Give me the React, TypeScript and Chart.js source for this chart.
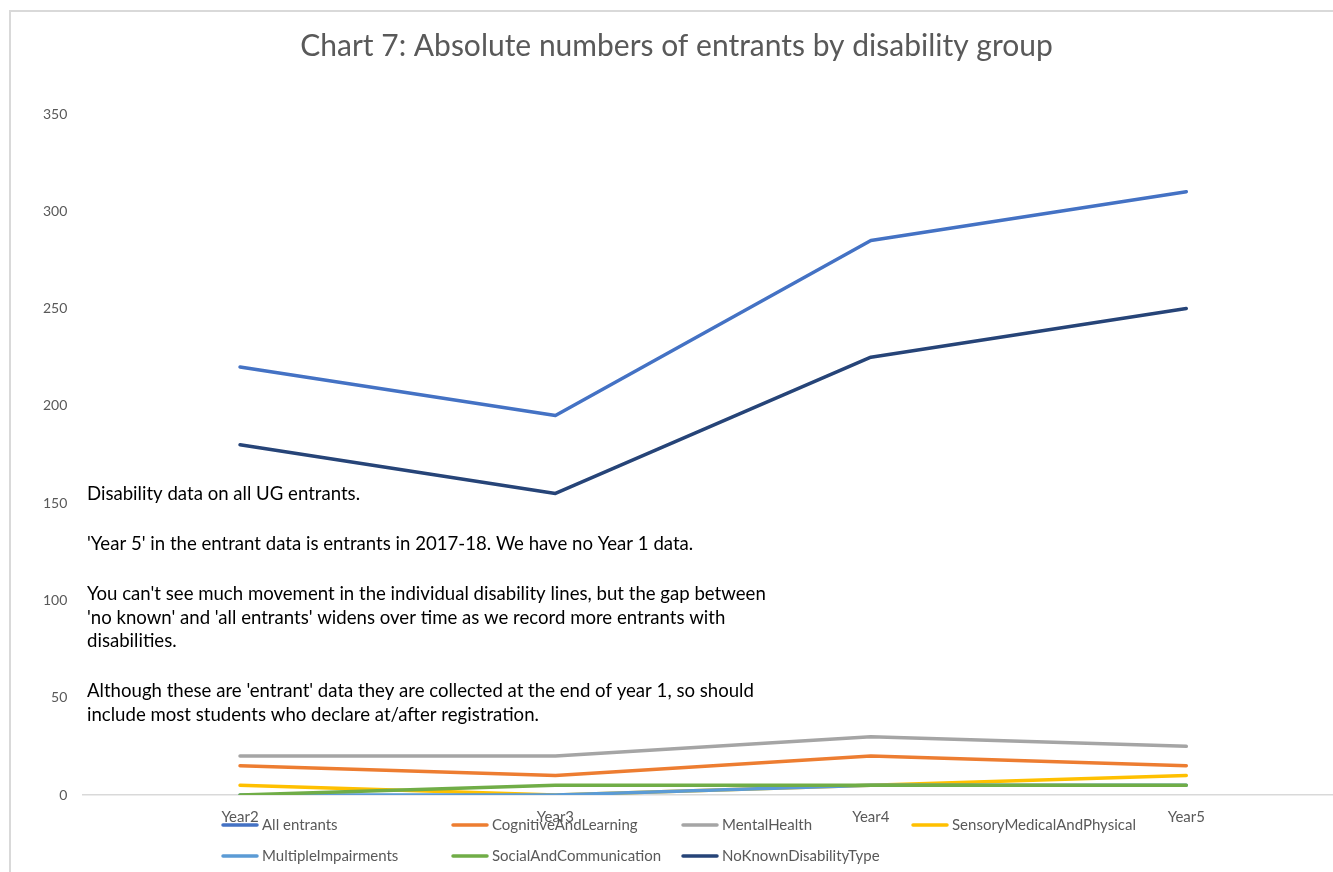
import React, { useEffect, useRef } from "react";
import { Chart, registerables } from "chart.js";

Chart.register(...registerables);

// ---- data ----
const categories = ["Year2", "Year3", "Year4", "Year5"];
const seriesNames = [
  "All entrants",
  "CognitiveAndLearning",
  "MentalHealth",
  "SensoryMedicalAndPhysical",
  "MultipleImpairments",
  "SocialAndCommunication",
  "NoKnownDisabilityType",
];
const allEntrants = [220, 195, 285, 310];
const cognitiveAndLearning = [15, 10, 20, 15];
const mentalHealth = [20, 20, 30, 25];
const sensoryMedicalAndPhysical = [5, 0, 5, 10];
const multipleImpairments = [0, 0, 5, 5];
const socialAndCommunication = [0, 5, 5, 5];
const noKnownDisabilityType = [180, 155, 225, 250];
const seriesColors = ["#4472C4", "#ED7D31", "#A5A5A5", "#FFC000", "#5B9BD5", "#70AD47", "#264478"];
const yMin = 0;
const yMax = 350;
const yStep = 50;
const chartTitle = "Chart 7: Absolute numbers of entrants by disability group";
const noteParagraphs = [
  ["Disability data on all UG entrants."],
  ["'Year 5' in the entrant data is entrants in 2017-18. We have no Year 1 data."],
  [
    "You can't see much movement in the individual disability lines, but the gap between",
    "'no known' and 'all entrants' widens over time as we record more entrants with",
    "disabilities.",
  ],
  [
    "Although these are 'entrant' data they are collected at the end of year 1, so should",
    "include most students who declare at/after registration.",
  ],
];

const seriesValues = [
  allEntrants,
  cognitiveAndLearning,
  mentalHealth,
  sensoryMedicalAndPhysical,
  multipleImpairments,
  socialAndCommunication,
  noKnownDisabilityType,
];

const FONT = "Lato, 'Noto Sans', sans-serif";
const GREY_TEXT = "#595959";

const W = 1344;
const H = 872;

const decorPlugin = {
  id: "decor",
  beforeDraw(chart: any) {
    const ctx = chart.ctx;
    ctx.save();
    ctx.fillStyle = "#ffffff";
    ctx.fillRect(0, 0, chart.width, chart.height);
    ctx.fillStyle = "#D9D9D9";
    ctx.fillRect(9, 10, chart.width - 9, 2);
    ctx.fillRect(9, 10, 2, chart.height - 10);
    ctx.restore();
  },
  afterDraw(chart: any) {
    const ctx = chart.ctx;
    ctx.save();
    // title
    ctx.fillStyle = GREY_TEXT;
    ctx.font = `30px ${FONT}`;
    ctx.textAlign = "center";
    ctx.textBaseline = "middle";
    ctx.fillText(chartTitle, (9 + chart.width) / 2, 46);

    // notes text box
    ctx.fillStyle = "#000000";
    ctx.font = `18.6px ${FONT}`;
    ctx.textAlign = "left";
    const lineH = 23.5;
    const paraGap = 26.5;
    let y = 494;
    noteParagraphs.forEach((para) => {
      para.forEach((line) => {
        ctx.fillText(line, 87, y);
        y += lineH;
      });
      y += paraGap;
    });

    // legend
    ctx.font = `15px ${FONT}`;
    ctx.fillStyle = GREY_TEXT;
    ctx.lineCap = "round";
    ctx.lineWidth = 3.5;
    seriesNames.forEach((name, i) => {
      const col = i % 4;
      const row = Math.floor(i / 4);
      const x0 = 223 + col * 230;
      const yy = 825 + row * 31;
      ctx.strokeStyle = seriesColors[i];
      ctx.beginPath();
      ctx.moveTo(x0, yy);
      ctx.lineTo(x0 + 34, yy);
      ctx.stroke();
      ctx.fillText(name, x0 + 39, yy);
    });
    ctx.restore();
  },
};

export default function App() {
  const ref = useRef<HTMLCanvasElement | null>(null);
  useEffect(() => {
    if (!ref.current) return;
    const chart = new Chart(ref.current, {
      type: "line",
      data: {
        labels: categories,
        datasets: seriesNames.map((name, i) => ({
          label: name,
          data: seriesValues[i],
          borderColor: seriesColors[i],
          backgroundColor: seriesColors[i],
          borderWidth: 3.5,
          pointRadius: 0,
          pointHoverRadius: 0,
          tension: 0,
          fill: false,
          borderCapStyle: "round",
          borderJoinStyle: "round",
          order: -i,
        })),
      },
      options: {
        responsive: false,
        animation: false,
        devicePixelRatio: 1,
        layout: { padding: { top: 114, bottom: 0, left: 0, right: 0 } },
        plugins: {
          legend: { display: false },
          title: { display: false },
          tooltip: { enabled: false },
        },
        events: [],
        scales: {
          x: {
            type: "category",
            offset: true,
            grid: { display: false, drawTicks: false },
            border: { display: true, color: "#D9D9D9", width: 1.5 },
            ticks: {
              color: GREY_TEXT,
              font: { family: FONT, size: 15 },
              padding: 13,
              maxRotation: 0,
              autoSkip: false,
            },
            afterFit: (s: any) => {
              s.height = 77;
            },
          },
          y: {
            min: yMin,
            max: yMax,
            grid: { display: false, drawTicks: false },
            border: { display: false },
            ticks: {
              stepSize: yStep,
              color: GREY_TEXT,
              font: { family: FONT, size: 14 },
              padding: 15,
            },
            afterFit: (s: any) => {
              s.width = 82.3;
            },
          },
        },
      },
      plugins: [decorPlugin],
    } as any);
    return () => chart.destroy();
  }, []);

  return (
    <div style={{ position: "absolute", left: 0, top: 0, width: 1333, height: 872, overflow: "hidden", background: "#fff" }}>
      <canvas ref={ref} width={W} height={H} style={{ width: W, height: H, display: "block" }} />
    </div>
  );
}
